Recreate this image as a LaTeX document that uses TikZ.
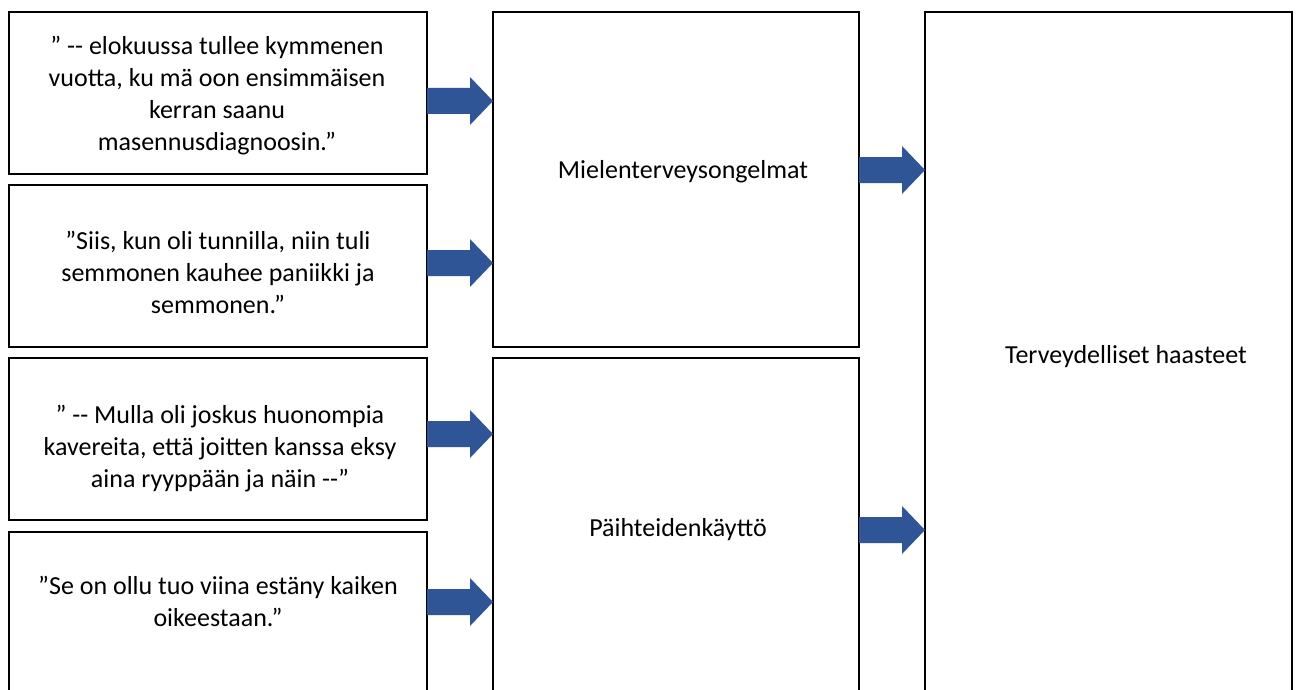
\documentclass[tikz,border=0pt]{standalone}
\usepackage{fontspec}
\setmainfont{Carlito}
\definecolor{arrowblue}{RGB}{47,85,151}
\newcommand\fatarrow[3]{\fill[arrowblue] (#1,#3-13) -- (#2-23,#3-13) -- (#2-23,#3-24) -- (#2,#3) -- (#2-23,#3+24) -- (#2-23,#3+13) -- (#1,#3+13) -- cycle;}
\newcommand\dd{-{}-}
\begin{document}
\begin{tikzpicture}[x=1pt,y=-1pt,
  box/.style={draw=black, line width=2pt, rectangle, inner sep=0pt},
  txt/.style={align=center, inner sep=0pt, font=\fontsize{26}{32}\selectfont, text=black}]
\useasboundingbox (0,0) rectangle (1300,690);
\fill[white] (0,0) rectangle (1300,690);
\clip (0,0) rectangle (1300,690);
% left column
\node[box, minimum width=418pt, minimum height=162pt] (q1) at (218,93) {};
\node[box, minimum width=418pt, minimum height=162pt] (q2) at (218,266) {};
\node[box, minimum width=418pt, minimum height=162pt] (q3) at (218,439) {};
\node[box, minimum width=418pt, minimum height=188pt] (q4) at (218,626) {};
% middle column
\node[box, minimum width=366pt, minimum height=335pt] (m1) at (676,179.5) {};
\node[box, minimum width=366pt, minimum height=362pt] (m2) at (676,539) {};
% right column
\node[box, minimum width=367pt, minimum height=708pt] (r) at (1108.5,366) {};
% texts
\node[txt] (t1) at (217,96) {\strut” \dd{} elokuussa tullee kymmenen\\\strut vuotta, ku mä oon ensimmäisen\\\strut kerran saanu\\\strut masennusdiagnoosin.”};
\node[txt] (t2) at (218,275.5) {\strut”Siis, kun oli tunnilla, niin tuli\\\strut semmonen kauhee paniikki ja\\\strut semmonen.”};
\node[txt] (t3) at (220,449.5) {\strut” \dd{} Mulla oli joskus huonompia\\\strut kavereita, että joitten kanssa eksy\\\strut aina ryyppään ja näin \dd”};
\node[txt] (t4) at (218,604) {\strut”Se on ollu tuo viina estäny kaiken\\\strut oikeestaan.”};
\node[txt] (tm1) at (683,172) {\strut Mielenterveysongelmat};
\node[txt] (tm2) at (678,530) {\strut Päihteidenkäyttö};
\node[txt] (tr) at (1126,357) {\strut Terveydelliset haasteet};
% block arrows
\fatarrow{427}{493}{101}
\fatarrow{427}{493}{263}
\fatarrow{427}{493}{434}
\fatarrow{427}{493}{602}
\fatarrow{859}{925}{170}
\fatarrow{859}{925}{530}
\end{tikzpicture}
\end{document}
